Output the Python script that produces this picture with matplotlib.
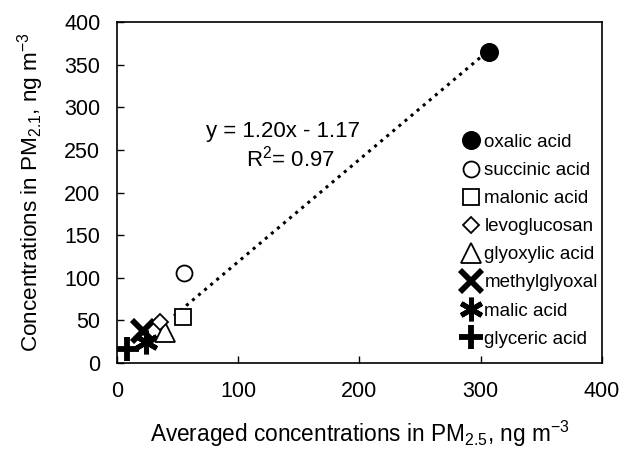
import matplotlib
matplotlib.use("Agg")
import matplotlib.pyplot as plt
from matplotlib.lines import Line2D

plt.rcParams['font.family'] = ['Liberation Sans', 'DejaVu Sans']
plt.rcParams['mathtext.fontset'] = 'custom'
plt.rcParams['mathtext.rm'] = 'Liberation Sans'
plt.rcParams['mathtext.it'] = 'Liberation Sans:italic'
plt.rcParams['mathtext.bf'] = 'Liberation Sans:bold'

compounds = ["oxalic acid", "succinic acid", "malonic acid", "levoglucosan",
             "glyoxylic acid", "methylglyoxal", "malic acid", "glyceric acid"]
pm25 = [306.5, 55.0, 54.5, 35.5, 40.0, 21.5, 24.0, 8.5]
pm21 = [365.0, 105.0, 54.0, 48.0, 36.0, 38.0, 25.0, 16.0]
slope = 1.20
intercept = -1.17
r2 = 0.97
fit_range = [47, 306]
xticks = [0, 100, 200, 300, 400]
yticks = [0, 50, 100, 150, 200, 250, 300, 350, 400]

styles = [
    dict(marker='o', markersize=12.5, mfc='black', mec='black', mew=1.2),
    dict(marker='o', markersize=11.5, mfc='white', mec='black', mew=1.3),
    dict(marker='s', markersize=12, mfc='white', mec='black', mew=1.3),
    dict(marker='D', markersize=8.5, mfc='white', mec='black', mew=1.3),
    dict(marker='^', markersize=14.5, mfc='white', mec='black', mew=1.3),
    dict(marker='x', markersize=15.5, mfc='none', mec='black', mew=4.2),
    dict(marker=(6, 2, 0), markersize=17, mfc='none', mec='black', mew=3.6),
    dict(marker='+', markersize=17, mfc='none', mec='black', mew=4.2),
]

fig = plt.figure(figsize=(6.21, 4.53), dpi=100)
ax = fig.add_axes([0.1884, 0.1987, 0.7810, 0.7527])

fx = fit_range
fy = [slope * v + intercept for v in fx]
ax.plot(fx, fy, linestyle=(0, (1, 1.6)), color='black', linewidth=2.2, zorder=1)

order = list(range(len(compounds)))[::-1]
for i in order:
    ax.plot([pm25[i]], [pm21[i]], linestyle='none', zorder=2 + (len(compounds) - i) * 0.1,
            **styles[i])

handles = [Line2D([], [], linestyle='none', **s) for s in styles]
leg = ax.legend(handles, compounds, loc='upper left', bbox_to_anchor=(0.713, 0.672),
                frameon=False, fontsize=13.5, handlelength=0.9, handletextpad=0.25,
                labelspacing=0.585, borderaxespad=0, borderpad=0)

ax.set_xlim(0, 400)
ax.set_ylim(0, 400)
ax.set_xticks(xticks)
ax.set_yticks(yticks)
ax.tick_params(direction='in', length=5, width=1, labelsize=15.5)
ax.tick_params(axis='x', pad=13)
ax.tick_params(axis='y', pad=12)
for sp in ax.spines.values():
    sp.set_linewidth(1.2)

ax.text(0.342, 0.680, "y = 1.20x - 1.17", transform=ax.transAxes,
        ha='center', va='center', fontsize=16)
ax.text(0.357, 0.601, "R$^{2}$= 0.97", transform=ax.transAxes,
        ha='center', va='center', fontsize=16)

ax.set_xlabel("Averaged concentrations in PM$_{2.5}$, ng m$^{-3}$", fontsize=16.3, labelpad=12)
ax.set_ylabel("Concentrations in PM$_{2.1}$, ng m$^{-3}$", fontsize=16.2, labelpad=13)

fig.savefig("out.png", dpi=100)
